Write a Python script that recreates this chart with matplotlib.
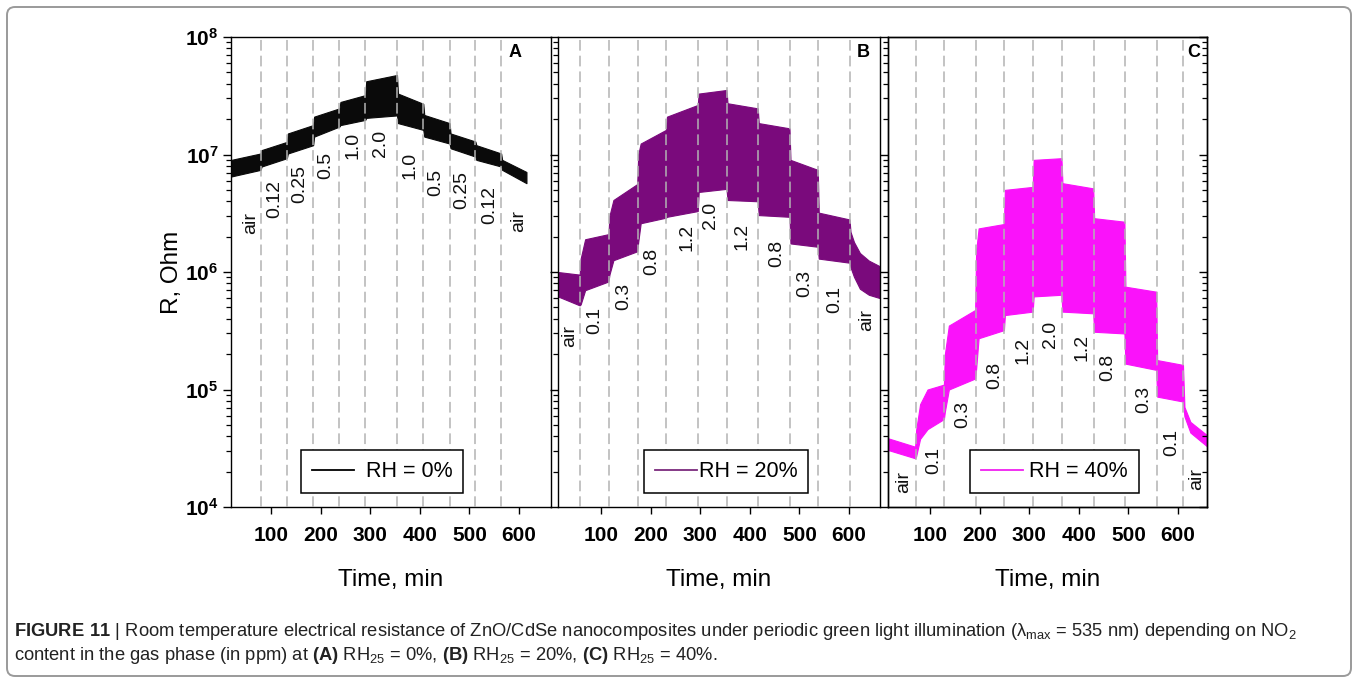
import numpy as np
import matplotlib
matplotlib.use('Agg')
import matplotlib.pyplot as plt
from matplotlib.patches import FancyBboxPatch
from matplotlib.lines import Line2D
from matplotlib.ticker import LogLocator, NullFormatter

# ---------------- data ----------------
x_ticks = [100, 200, 300, 400, 500, 600]
x_tick_labels = ['100', '200', '300', '400', '500', '600']
y_ticks = [1e4, 1e5, 1e6, 1e7, 1e8]
y_tick_labels = [r'$10^{4}$', r'$10^{5}$', r'$10^{6}$', r'$10^{7}$', r'$10^{8}$']

# Panel A (RH = 0 %)
A_t = [20, 79, 81, 132, 134, 185, 187, 238, 240, 290, 292, 354, 356, 407, 409,
       460, 462, 512, 514, 564, 566, 615]
A_low = [6.5e6, 7.4e6, 7.9e6, 9.3e6, 1.02e7, 1.2e7, 1.42e7, 1.73e7, 1.78e7, 1.97e7,
         2.05e7, 2.15e7, 1.85e7, 1.62e7, 1.42e7, 1.24e7, 1.13e7, 9.6e6, 9.0e6, 7.9e6,
         7.4e6, 5.7e6]
A_high = [9.0e6, 1.02e7, 1.09e7, 1.28e7, 1.51e7, 1.78e7, 2.1e7, 2.47e7, 2.8e7, 3.2e7,
          4.2e7, 4.75e7, 3.3e7, 2.7e7, 2.17e7, 1.85e7, 1.51e7, 1.29e7, 1.2e7, 1.02e7,
          9.0e6, 7.1e6]
A_bounds = [79, 132, 185, 238, 290, 355, 407, 460, 512, 564]
A_labels = ['air', '0.12', '0.25', '0.5', '1.0', '2.0', '1.0', '0.5', '0.25', '0.12', 'air']
A_lab_t = [59, 108, 159, 211, 265, 320, 380, 433, 485, 541, 600]
A_lab_R = [2.6e6, 4.2e6, 5.6e6, 8.1e6, 1.19e7, 1.25e7, 8.1e6, 5.8e6, 5.0e6, 3.7e6, 2.7e6]

# Panel B (RH = 20 %)
B_t = [13, 57, 59, 68, 115, 117, 125, 173, 175, 180, 231, 233, 295, 297, 353, 355,
       416, 418, 480, 482, 537, 539, 601, 603, 610, 622, 640, 662]
B_low = [6.2e5, 5.2e5, 5.3e5, 7.0e5, 8.3e5, 9.5e5, 1.26e6, 1.5e6, 1.8e6, 2.6e6, 2.9e6,
         2.95e6, 3.3e6, 4.8e6, 5.1e6, 4.1e6, 4.0e6, 3.05e6, 2.95e6, 1.75e6, 1.64e6,
         1.3e6, 1.2e6, 1.1e6, 9.1e5, 7.2e5, 6.4e5, 6.0e5]
B_high = [1.0e6, 9.5e5, 1.3e6, 1.9e6, 2.1e6, 3.0e6, 4.1e6, 5.6e6, 1.0e7, 1.24e7, 1.62e7,
          2.1e7, 2.64e7, 3.3e7, 3.54e7, 2.73e7, 2.47e7, 1.85e7, 1.67e7, 9.0e6, 7.4e6,
          3.2e6, 2.8e6, 2.2e6, 1.8e6, 1.45e6, 1.25e6, 1.12e6]
B_bounds = [58, 116, 174, 232, 296, 354, 417, 481, 538, 602]
BC_labels = ['air', '0.1', '0.3', '0.8', '1.2', '2.0', '1.2', '0.8', '0.3', '0.1', 'air']
B_lab_t = [37, 88, 145, 203, 273, 320, 384, 454, 511, 572, 636]
B_lab_R = [2.85e5, 3.9e5, 6.2e5, 1.22e6, 1.95e6, 3.05e6, 2.0e6, 1.45e6, 8.05e5, 5.8e5, 3.9e5]

# Panel C (RH = 40 %)
C_t = [15, 70, 72, 80, 95, 128, 130, 138, 191, 193, 198, 249, 251, 307, 309, 365,
       367, 429, 431, 492, 494, 556, 558, 610, 613, 625, 658]
C_low = [3.06e4, 2.6e4, 2.7e4, 3.8e4, 4.6e4, 5.6e4, 6.5e4, 1.0e5, 1.24e5, 1.5e5, 2.73e5,
         3.2e5, 4.3e5, 4.6e5, 6.2e5, 6.4e5, 4.6e5, 4.45e5, 3.1e5, 3.0e5, 1.66e5, 1.47e5,
         8.7e4, 7.9e4, 5.9e4, 4.3e4, 3.3e4]
C_high = [3.85e4, 3.26e4, 4.5e4, 7.5e4, 1.0e5, 1.1e5, 2.0e5, 3.5e5, 4.75e5, 1.5e6, 2.35e6,
          2.56e6, 5.0e6, 5.3e6, 9.0e6, 9.3e6, 5.7e6, 5.15e6, 2.87e6, 2.68e6, 7.5e5, 6.8e5,
          1.78e5, 1.62e5, 7.1e4, 5.3e4, 4.1e4]
C_bounds = [71, 129, 192, 250, 308, 366, 430, 493, 557, 611]
C_lab_t = [46, 107, 167, 231, 288, 342, 406, 459, 530, 588, 638]
C_lab_R = [1.62e4, 2.5e4, 6.1e4, 1.33e5, 2.13e5, 2.96e5, 2.3e5, 1.55e5, 8.3e4, 3.54e4, 1.73e4]

legend_texts = ['RH = 0%', 'RH = 20%', 'RH = 40%']
panel_letters = ['A', 'B', 'C']

# ---------------- style ----------------
W, H = 1358, 683
plt.rcParams['font.family'] = ['Liberation Sans', 'DejaVu Sans']
plt.rcParams['mathtext.default'] = 'regular'
plt.rcParams['mathtext.fontset'] = 'custom'
plt.rcParams['mathtext.rm'] = 'Liberation Sans'
plt.rcParams['mathtext.bf'] = 'Liberation Sans:bold'
plt.rcParams['axes.linewidth'] = 1.0

fig = plt.figure(figsize=(W / 100, H / 100), dpi=100)

def rect(x0, x1, y0=37, y1=507):
    return [x0 / W, 1 - y1 / H, (x1 - x0) / W, (y1 - y0) / H]

panels = [
    dict(rect=rect(231, 551), xlim=(19.4, 664.5), t=A_t, lo=A_low, hi=A_high,
         bounds=A_bounds, labels=A_labels, lt=A_lab_t, lr=A_lab_R, color='#0a0a0a',
         lcolor='#000000', leg_x=0.473, let_x=0.888, hpad=0.55),
    dict(rect=rect(558, 880), xlim=(13.3, 662.5), t=B_t, lo=B_low, hi=B_high,
         bounds=B_bounds, labels=BC_labels, lt=B_lab_t, lr=B_lab_R, color='#7a0a7c',
         lcolor='#7b2a7d', leg_x=0.522, let_x=0.948, hpad=0.1),
    dict(rect=rect(888, 1207), xlim=(15.3, 658.5), t=C_t, lo=C_low, hi=C_high,
         bounds=C_bounds, labels=BC_labels, lt=C_lab_t, lr=C_lab_R, color='#fa12fa',
         lcolor='#f020f0', leg_x=0.522, let_x=0.957, hpad=0.3),
]

axes = []
for i, p in enumerate(panels):
    ax = fig.add_axes(p['rect'])
    axes.append(ax)
    ax.set_yscale('log')
    ax.set_ylim(1e4, 1e8)
    ax.set_xlim(*p['xlim'])
    # data band (periodic oscillation envelope)
    ax.fill_between(p['t'], p['lo'], p['hi'], color=p['color'], lw=0.8,
                    edgecolor=p['color'], zorder=2)
    # step boundaries
    for b in p['bounds']:
        ax.axvline(b, color='#b3b3b3', lw=1.1, linestyle=(0, (7, 3.3)), zorder=3)
    # concentration labels
    for s, tt, rr in zip(p['labels'], p['lt'], p['lr']):
        ax.text(tt, rr, s, rotation=90, ha='center', va='center', fontsize=14,
                color='#111111', zorder=4)
    # ticks
    ax.set_xticks(x_ticks, labels=x_tick_labels, fontsize=15, fontweight='bold')
    ax.tick_params(axis='x', direction='out', length=5, width=1.0, pad=9)
    ax.set_yticks(y_ticks)
    ax.yaxis.set_minor_locator(LogLocator(base=10, subs=range(2, 10), numticks=20))
    ax.yaxis.set_minor_formatter(NullFormatter())
    ax.tick_params(axis='y', which='major', direction='out', length=6, width=1.0,
                   left=True, right=False, pad=3)
    ax.tick_params(axis='y', which='minor', direction='out', length=3.5, width=0.9,
                   left=True, right=False)
    if i == 0:
        ax.set_yticklabels(y_tick_labels, fontsize=15, fontweight='bold')
    else:
        ax.tick_params(axis='y', labelleft=False)
    # panel letter
    ax.text(p['let_x'], 0.966, panel_letters[i], transform=ax.transAxes,
            ha='center', va='center', fontsize=13, fontweight='bold')
    # legend
    h = [Line2D([], [], color=p['lcolor'], lw=1.3)]
    leg = ax.legend(h, [legend_texts[i]], loc='lower center',
                    bbox_to_anchor=(p['leg_x'], 0.03), borderaxespad=0,
                    fontsize=15.5, frameon=True, fancybox=False, framealpha=1,
                    edgecolor='black', handlelength=1.95, handletextpad=p['hpad'],
                    borderpad=0.5)
    leg.get_frame().set_linewidth(1.1)
    leg.set_zorder(5)
    # x label
    fig.text((p['rect'][0] + p['rect'][2] / 2), 1 - 580 / H, 'Time, min',
             ha='center', va='center', fontsize=17.5)

# right-side inward ticks on panel C
axr = axes[2].twinx()
axr.set_yscale('log')
axr.set_ylim(1e4, 1e8)
axr.set_yticks(y_ticks)
axr.yaxis.set_minor_locator(LogLocator(base=10, subs=range(2, 10), numticks=20))
axr.yaxis.set_minor_formatter(NullFormatter())
axr.tick_params(axis='y', which='major', direction='in', length=6, width=1.0, labelright=False)
axr.tick_params(axis='y', which='minor', direction='in', length=3.5, width=0.9)

# y label
fig.text(172 / W, 1 - 272 / H, 'R, Ohm', rotation=90, ha='center', va='center',
         fontsize=17.5)

# outer frame
frame = FancyBboxPatch((0.07, 0.07), 13.44, 6.69,
                       boxstyle='round,pad=0,rounding_size=0.08',
                       transform=fig.dpi_scale_trans, fill=False,
                       edgecolor='#9a9a9a', lw=1.4)
fig.add_artist(frame)

# caption
cap_family = ['Liberation Sans', 'DejaVu Sans']
line1 = (r'$\mathbf{FIGURE\ 11}$ | Room temperature electrical resistance of ZnO/CdSe '
         r'nanocomposites under periodic green light illumination (λ$_{max}$ = 535 nm) '
         r'depending on NO$_{2}$')
line2 = (r'content in the gas phase (in ppm) at $\mathbf{(A)}$ RH$_{25}$ = 0%, '
         r'$\mathbf{(B)}$ RH$_{25}$ = 20%, $\mathbf{(C)}$ RH$_{25}$ = 40%.')
c1 = fig.text(14 / W, 1 - 632 / H, line1, fontsize=13, family=cap_family,
              ha='left', va='center', color='#222222')
c2 = fig.text(14 / W, 1 - 656 / H, line2, fontsize=13, family=cap_family,
              ha='left', va='center', color='#222222')
fig.canvas.draw()
r = fig.canvas.get_renderer()
wpx = c1.get_window_extent(r).width
fs = 13 * (1280 / wpx)
c1.set_fontsize(fs)
c2.set_fontsize(fs)

fig.savefig('out.png', dpi=100)
